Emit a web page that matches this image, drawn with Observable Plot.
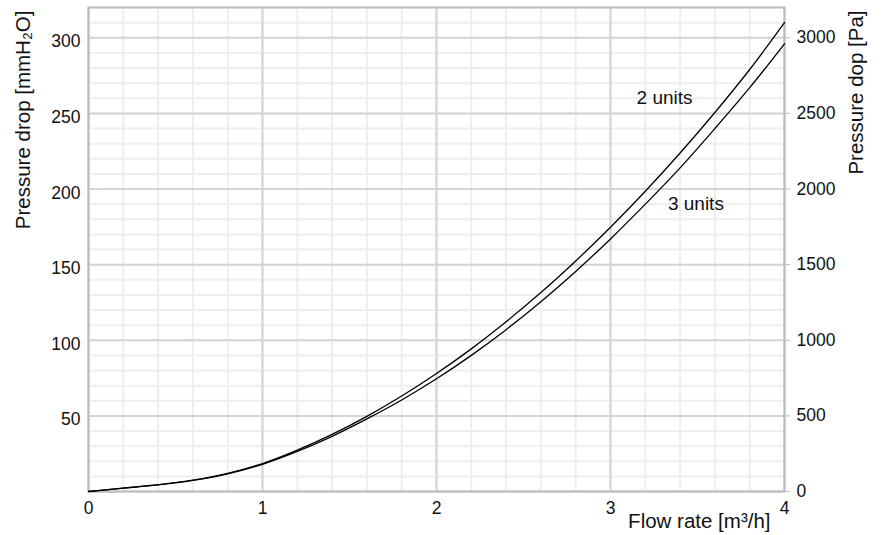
<!DOCTYPE html>
<html>
<head>
<meta charset="utf-8">
<script src="https://cdn.jsdelivr.net/npm/d3@7"></script>
<script src="https://cdn.jsdelivr.net/npm/@observablehq/plot@0.6"></script>
<style>
  html, body { margin: 0; padding: 0; background: #fff; }
  #chart svg { display: block; }
</style>
</head>
<body>
<div id="chart"></div>
<script>
// Flow rate [m3/h]
const flow = [0, 0.2, 0.4, 0.6, 0.8, 1.0, 1.2, 1.4, 1.6, 1.8, 2.0, 2.2, 2.4, 2.6, 2.8, 3.0, 3.2, 3.4, 3.6, 3.8, 4.0];
// Pressure drop [mmH2O]
const units2 = [0, 2.2, 4.5, 7.5, 12, 18.5, 27.4, 37.8, 49.7, 63.1, 78, 94.3, 112.2, 131.5, 152.4, 174.7, 198.5, 223.8, 250.6, 279, 310];
const units3 = [0, 2.2, 4.4, 7.3, 11.7, 18, 26.5, 36.5, 48, 60.5, 74.5, 90, 107, 125.5, 145.5, 167, 190, 214, 240, 267, 296];
const seriesNames = ["2 units", "3 units"];
const labelPos = [{name: "2 units", x: 3.15, y: 260}, {name: "3 units", x: 3.33, y: 190}];

const xTicks = [0, 1, 2, 3, 4];
const yTicksLeft = [50, 100, 150, 200, 250, 300];
const yTicksRight = [0, 50, 100, 150, 200, 250, 300]; // shown as Pa (x10)
const xMinor = d3.range(0, 4.001, 0.2);
const yMinor = d3.range(0, 320.001, 10);
const xLabel = "Flow rate [m³/h]";
const yLabelLeft = "Pressure drop [mmH₂O]";
const yLabelRight = "Pressure dop [Pa]";

const rows = [];
seriesNames.forEach((name, k) => {
  const vals = k === 0 ? units2 : units3;
  flow.forEach((q, i) => rows.push({series: name, q, v: vals[i]}));
});

const font = "Liberation Sans, Arial, sans-serif";

const chart = Plot.plot({
  width: 886,
  height: 535,
  marginLeft: 88,
  marginRight: 102,
  marginTop: 7,
  marginBottom: 44,
  style: {fontFamily: font, fontSize: "17px", color: "#111", background: "#fff"},
  x: {domain: [0, 4]},
  y: {domain: [0, 320]},
  marks: [
    Plot.gridX(xMinor, {stroke: "#eeeeee", strokeOpacity: 1, strokeWidth: 2}),
    Plot.gridY(yMinor, {stroke: "#eeeeee", strokeOpacity: 1, strokeWidth: 2}),
    Plot.gridX(xTicks, {stroke: "#d4d4d4", strokeOpacity: 1, strokeWidth: 2}),
    Plot.gridY(yTicksRight, {stroke: "#d4d4d4", strokeOpacity: 1, strokeWidth: 2}),
    Plot.frame({stroke: "#bdbdbd", strokeWidth: 2}),
    Plot.axisX(xTicks, {tickSize: 0, tickPadding: 10, label: null, fontSize: 17.5, tickFormat: d => String(d)}),
    Plot.axisY(yTicksLeft, {anchor: "left", tickSize: 0, tickPadding: 8, dy: 4, label: null, fontSize: 17.5}),
    Plot.axisY(yTicksRight, {anchor: "right", tickSize: 5, tickPadding: 7, stroke: "#bdbdbd", label: null, fontSize: 17.5,
      tickFormat: d => String(d * 10)}),
    Plot.line(rows, {x: "q", y: "v", z: "series", stroke: "#000", strokeWidth: 1.3, curve: "monotone-x"}),
    Plot.text(labelPos, {x: "x", y: "y", text: "name", textAnchor: "start", fontSize: 19, fill: "#111"}),
    Plot.text([xLabel], {frameAnchor: "bottom-right", textAnchor: "end", dx: -14, dy: 36, fontSize: 20.5, fill: "#111"}),
    Plot.text([yLabelLeft], {frameAnchor: "top-left", rotate: -90, textAnchor: "end", dx: -73, dy: 3, fontSize: 20.5, fill: "#111"}),
    Plot.text([yLabelRight], {frameAnchor: "top-right", rotate: -90, textAnchor: "end", dx: 64, dy: 3, fontSize: 20.5, fill: "#111"})
  ]
});
document.getElementById("chart").appendChild(chart);
</script>
</body>
</html>
